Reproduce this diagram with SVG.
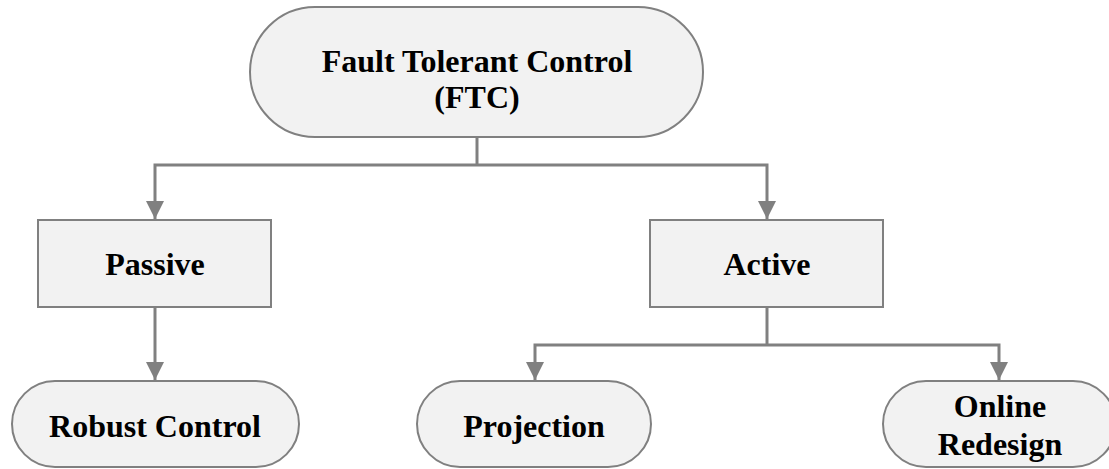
<svg xmlns="http://www.w3.org/2000/svg" width="1109" height="469" viewBox="0 0 1109 469">
  <style>
    .node { fill: #f2f2f2; stroke: #808080; stroke-width: 2; }
    .label { font-family: 'Liberation Serif', 'DejaVu Serif', serif; font-weight: 700; font-size: 32px; fill: #000; text-anchor: middle; }
    .wire { fill: none; stroke: #808080; stroke-width: 3; }
  </style>
  <defs>
    <marker id="arrow" markerUnits="userSpaceOnUse" markerWidth="20" markerHeight="20" viewBox="0 0 20 20" refX="18" refY="10" orient="auto">
      <path d="M0,1 L18,10 L0,19 Z" fill="#808080"/>
    </marker>
  </defs>

  <rect width="1109" height="469" fill="#ffffff"/>

  <g id="connectors">
    <path class="wire" d="M477,137 V165"/>
    <path class="wire" d="M477,165 H155 V219" marker-end="url(#arrow)"/>
    <path class="wire" d="M477,165 H767 V219" marker-end="url(#arrow)"/>
    <path class="wire" d="M155,307 V380" marker-end="url(#arrow)"/>
    <path class="wire" d="M767,307 V345"/>
    <path class="wire" d="M767,345 H535 V380" marker-end="url(#arrow)"/>
    <path class="wire" d="M767,345 H999 V380" marker-end="url(#arrow)"/>
  </g>

  <g id="ftc">
    <rect class="node" x="250" y="7" width="453" height="130" rx="65" ry="65"/>
    <text class="label" x="477" y="72">Fault Tolerant Control</text>
    <text class="label" x="477" y="108">(FTC)</text>
  </g>

  <g id="passive">
    <rect class="node" x="38" y="220" width="233" height="87"/>
    <text class="label" x="155" y="275">Passive</text>
  </g>

  <g id="active">
    <rect class="node" x="650" y="220" width="233" height="87"/>
    <text class="label" x="767" y="275">Active</text>
  </g>

  <g id="robust-control">
    <rect class="node" x="12" y="381" width="287" height="86" rx="43" ry="43"/>
    <text class="label" x="155" y="437">Robust Control</text>
  </g>

  <g id="projection">
    <rect class="node" x="417" y="381" width="234" height="86" rx="43" ry="43"/>
    <text class="label" x="534" y="437">Projection</text>
  </g>

  <g id="online-redesign">
    <rect class="node" x="883" y="381" width="233" height="86" rx="43" ry="43"/>
    <text class="label" x="1000" y="417">Online</text>
    <text class="label" x="1000" y="455">Redesign</text>
  </g>
</svg>
